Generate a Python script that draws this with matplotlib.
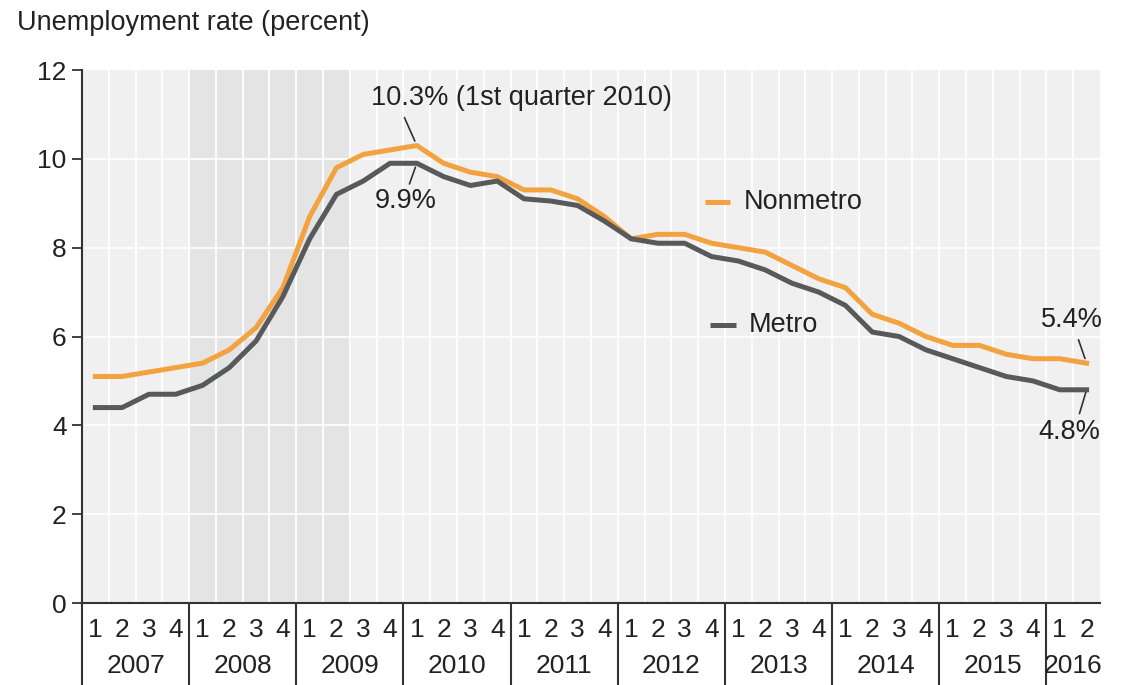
import numpy as np
import matplotlib.pyplot as plt
import matplotlib.transforms as mtransforms

plt.rcParams['font.family'] = ['Liberation Sans', 'DejaVu Sans']

# quarterly unemployment rate, 2007 Q1 .. 2016 Q2
years = [2007, 2008, 2009, 2010, 2011, 2012, 2013, 2014, 2015, 2016]
quarter_labels = ['1', '2', '3', '4'] * 9 + ['1', '2']

nonmetro = [5.1, 5.1, 5.2, 5.3,
            5.4, 5.7, 6.2, 7.1,
            8.7, 9.8, 10.1, 10.2,
            10.3, 9.9, 9.7, 9.6,
            9.3, 9.3, 9.1, 8.7,
            8.2, 8.3, 8.3, 8.1,
            8.0, 7.9, 7.6, 7.3,
            7.1, 6.5, 6.3, 6.0,
            5.8, 5.8, 5.6, 5.5,
            5.5, 5.4]
metro = [4.4, 4.4, 4.7, 4.7,
         4.9, 5.3, 5.9, 6.9,
         8.2, 9.2, 9.5, 9.9,
         9.9, 9.6, 9.4, 9.5,
         9.1, 9.05, 8.95, 8.6,
         8.2, 8.1, 8.1, 7.8,
         7.7, 7.5, 7.2, 7.0,
         6.7, 6.1, 6.0, 5.7,
         5.5, 5.3, 5.1, 5.0,
         4.8, 4.8]

orange = '#f2a23e'
grey = '#58595b'
dark = '#333333'
txt = '#222222'
fs = 19.5

x = np.arange(len(nonmetro))

fig = plt.figure(figsize=(11.29, 6.85), dpi=100)
ax = fig.add_axes([0.0726, 0.1197, 0.9017, 0.7781])
ax.set_facecolor('#f0f0f0')

# recession shading 2008 Q1 - 2009 Q2
ax.axvspan(3.5, 9.5, color='#e4e4e4', zorder=0)
for k in range(len(x) - 1):
    ax.axvline(k + 0.5, color='white', lw=1.3, zorder=1)
for yv in [2, 4, 6, 8, 10]:
    ax.axhline(yv, color='white', lw=1.2, zorder=1)

ax.plot(x, nonmetro, color=orange, lw=3.6, zorder=3, solid_joinstyle='round')
ax.plot(x, metro, color=grey, lw=3.6, zorder=3, solid_joinstyle='round')

ax.set_xlim(-0.5, len(x) - 0.5)
ax.set_ylim(0, 12)
ax.set_yticks(range(0, 13, 2))
ax.set_xticks([])
for s in ['top', 'right']:
    ax.spines[s].set_visible(False)
ax.spines['left'].set_color(dark)
ax.spines['bottom'].set_color(dark)
ax.spines['left'].set_linewidth(1.5)
ax.spines['bottom'].set_linewidth(1.5)
ax.tick_params(axis='y', length=7, width=1.3, color=dark, labelsize=19, labelcolor=txt, pad=4)

fig.text(0.015, 0.966, 'Unemployment rate (percent)', fontsize=fs, color=txt, va='center')

# quarter / year labels under the axis
trans = mtransforms.blended_transform_factory(ax.transData, ax.transAxes)
for i, q in enumerate(quarter_labels):
    ax.text(i, -0.05, q, transform=trans, ha='center', va='center', fontsize=19, color=txt)
for j, yr in enumerate(years):
    start = j * 4 - 0.5
    end = min(start + 4, len(x) - 0.5)
    ax.text((start + end) / 2, -0.119, str(yr), transform=trans, ha='center', va='center',
            fontsize=19, color=txt)
    ax.plot([start, start], [0, -0.16], transform=trans, color=dark, lw=1.5, clip_on=False)

# annotations
ax.annotate('10.3% (1st quarter 2010)', xy=(12, nonmetro[12]), xytext=(15.92, 11.37),
            ha='center', va='center', fontsize=fs, color=txt,
            arrowprops=dict(arrowstyle='-', color=dark, lw=1.2, relpos=(0.1, 0),
                            shrinkA=3, shrinkB=3.5))
ax.annotate('9.9%', xy=(12, metro[12]), xytext=(11.6, 9.05),
            ha='center', va='center', fontsize=fs, color=txt,
            arrowprops=dict(arrowstyle='-', color=dark, lw=1.2, relpos=(0.53, 1),
                            shrinkA=1, shrinkB=3))
ax.annotate('5.4%', xy=(37, nonmetro[37]), xytext=(36.45, 6.37),
            ha='center', va='center', fontsize=fs, color=txt,
            arrowprops=dict(arrowstyle='-', color=dark, lw=1.2, relpos=(0.57, 0),
                            shrinkA=3, shrinkB=3.5))
ax.annotate('4.8%', xy=(37, metro[37]), xytext=(36.35, 3.85),
            ha='center', va='center', fontsize=fs, color=txt,
            arrowprops=dict(arrowstyle='-', color=dark, lw=1.2, relpos=(0.64, 1),
                            shrinkA=2, shrinkB=2))

# inline legend
ax.plot([22.75, 23.7], [9.03, 9.03], color=orange, lw=3.6, solid_capstyle='butt')
ax.text(24.2, 9.03, 'Nonmetro', fontsize=fs, color=txt, va='center')
ax.plot([22.95, 23.9], [6.26, 6.26], color=grey, lw=3.6, solid_capstyle='butt')
ax.text(24.4, 6.26, 'Metro', fontsize=fs, color=txt, va='center')

fig.savefig('out.png', dpi=100)
